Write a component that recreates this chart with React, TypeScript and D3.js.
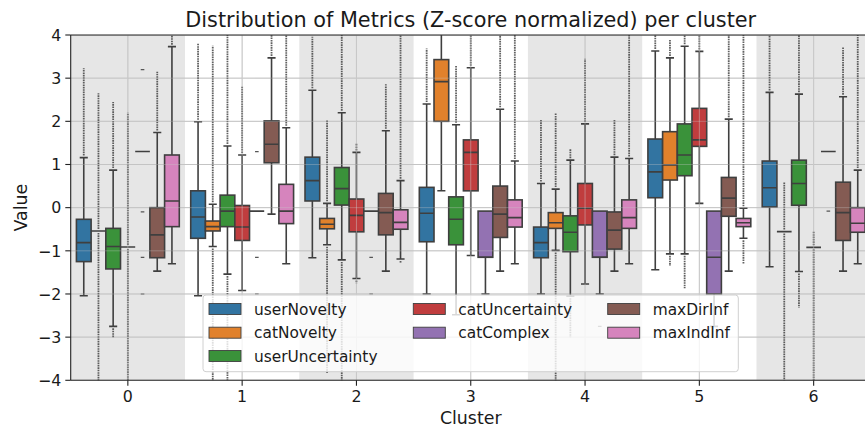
import React from 'react';
import * as d3 from 'd3';

const clusters = ['0', '1', '2', '3', '4', '5', '6'];
const metrics = ['userNovelty', 'catNovelty', 'userUncertainty', 'catUncertainty', 'catComplex', 'maxDirInf', 'maxIndInf'];
const colors = ['#3274a1', '#e1812c', '#3a923a', '#c03d3e', '#9372b2', '#845b53', '#d684bd'];
const yTicks = [-4, -3, -2, -1, 0, 1, 2, 3, 4];

// per cluster: [lower whisker, Q1, median, Q3, upper whisker]
const userNovelty = [
  [-2.04, -1.25, -0.81, -0.27, 1.16], [-2.04, -0.71, -0.215, 0.39, 1.99], [-1.16, 0.155, 0.625, 1.17, 2.72],
  [-2.0, -0.79, -0.13, 0.47, 2.4], [-2.0, -1.16, -0.81, -0.45, 0.56], [-1.44, 0.23, 0.83, 1.59, 3.63], [-1.37, 0.016, 0.46, 1.08, 2.67],
];
const catNovelty = [
  [-0.54, -0.54, -0.54, -0.54, -0.54], [-0.9, -0.54, -0.44, -0.31, 0.08], [-0.86, -0.49, -0.385, -0.25, 0.1],
  [0.39, 2.0, 2.92, 3.43, 4.3], [-0.99, -0.48, -0.35, -0.115, 0.43], [-1.07, 0.64, 0.99, 1.76, 3.47], [-0.555, -0.555, -0.555, -0.555, -0.555],
];
const userUncertainty = [
  [-2.75, -1.42, -0.9, -0.48, 0.87], [-1.54, -0.44, -0.08, 0.29, 1.43], [-1.21, 0.06, 0.44, 0.93, 2.2],
  [-2.48, -0.86, -0.27, 0.25, 1.92], [-2.05, -1.02, -0.57, -0.19, 1.1], [-1.07, 0.74, 1.22, 1.94, 3.74], [-1.48, 0.055, 0.56, 1.1, 2.63],
];
const catUncertainty = [
  [-0.91, -0.91, -0.91, -0.91, -0.91], [-1.92, -0.76, -0.45, 0.05, 1.22], [-1.64, -0.56, -0.18, 0.2, 1.28],
  [-1.11, 0.39, 1.28, 1.57, 3.24], [-1.77, -0.4, -0.015, 0.56, 1.94], [0.1, 1.42, 1.57, 2.3, 3.62], [-0.92, -0.92, -0.92, -0.92, -0.92],
];
const catComplex = [
  [1.3, 1.3, 1.3, 1.3, 1.3], [-0.08, -0.08, -0.08, -0.08, -0.08], [-0.08, -0.08, -0.08, -0.08, -0.08],
  [-2.0, -1.15, -1.15, -0.08, -0.08], [-2.0, -1.15, -1.15, -0.08, -0.08], [-2.75, -2.0, -1.15, -0.08, -0.08], [1.3, 1.3, 1.3, 1.3, 1.3],
];
const maxDirInf = [
  [-1.47, -1.16, -0.63, 0.0, 1.74], [-0.15, 1.04, 1.47, 2.01, 3.47], [-1.47, -0.63, -0.115, 0.33, 1.78],
  [-1.47, -0.69, -0.15, 0.5, 2.28], [-1.47, -0.96, -0.52, -0.1, 1.17], [-1.47, -0.2, 0.22, 0.7, 2.05], [-1.47, -0.76, -0.115, 0.59, 2.57],
];
const maxIndInf = [
  [-1.3, -0.44, 0.155, 1.22, 3.73], [-1.3, -0.37, -0.08, 0.54, 1.85], [-1.19, -0.5, -0.34, -0.05, 0.625],
  [-1.3, -0.45, -0.23, 0.18, 1.08], [-1.3, -0.48, -0.23, 0.18, 1.14], [-0.71, -0.44, -0.35, -0.25, -0.015], [-1.3, -0.57, -0.36, 0.0, 0.87],
];

// outlier extents per cluster (null = none)
const flierHigh = [
  [3.23, 3.8, 3.96, 3.69, 2.03, 4.2, 4.2],
  [2.65, 3.75, 2.03, null, 2.19, 3.9, 0.6],
  [2.45, 4.2, 4.2, 3.28, 1.36, 4.2, 4.2],
  [2.2, 2.8, 1.5, 4.2, 3.45, 4.2, -0.55],
  [null, null, null, null, null, null, null],
  [3.15, 4.2, 2.86, 4.2, 2.03, 4.2, 3.73],
  [4.2, 4.2, 4.2, 4.2, 4.2, 4.2, 4.2],
];
const flierLow = [
  [null, null, null, null, null, null, null],
  [-4.2, -4.2, -3.83, null, -4.2, -1.35, -4.2],
  [-3.0, -4.2, -4.2, null, -3.0, -1.87, -2.32],
  [-4.2, null, -1.75, null, null, null, -4.2],
  [null, null, null, null, null, null, null],
  [null, null, null, null, null, null, null],
  [null, null, -1.28, null, null, -1.31, null],
];
// isolated outliers of catComplex per cluster
const catComplexOutliers = [[3.2, -0.1, -1.15, -2.0], [1.3, -1.15, -2.0], [-1.15, -2.0], [], [-2.75], [], [-0.08]];

const seriesStats = [userNovelty, catNovelty, userUncertainty, catUncertainty, catComplex, maxDirInf, maxIndInf];

const W = 865, H = 430;
const left = 70.7, right = 870.8, top = 35, bottom = 380.3;
const FONT = 'DejaVu Sans, sans-serif';
const LINE = '#3f3f3f';

export default function App() {
  const x = d3.scaleBand<string>().domain(clusters).range([left, right]).padding(0);
  const bw = x.bandwidth();
  const inner = d3.scaleBand<string>().domain(metrics).range([bw * 0.05, bw * 0.95]).padding(0);
  const sw = inner.bandwidth();
  const y = d3.scaleLinear().domain([-4, 4]).range([bottom, top]);
  const capW = sw * 0.55;

  const boxes: React.ReactNode[] = [];
  const fliers: React.ReactNode[] = [];
  metrics.forEach((m, mi) => {
    seriesStats[mi].forEach((s, ci) => {
      const x0 = (x(clusters[ci]) as number) + (inner(m) as number);
      const cx = x0 + sw / 2;
      const [wlo, q1, med, q3, whi] = s;
      const fh = flierHigh[mi][ci];
      const fl = flierLow[mi][ci];
      if (fh !== null) fliers.push(<line key={`fh${mi}-${ci}`} x1={cx} x2={cx} y1={y(whi) - 2} y2={y(fh)} stroke="#3a3a3a" strokeWidth={1.8} strokeDasharray="1.6 0.8" opacity={0.8} />);
      if (fl !== null) fliers.push(<line key={`fl${mi}-${ci}`} x1={cx} x2={cx} y1={y(wlo) + 2} y2={y(fl)} stroke="#3a3a3a" strokeWidth={1.8} strokeDasharray="1.6 0.8" opacity={0.8} />);
      if (mi === 4) {
        catComplexOutliers[ci].forEach((v, k) => {
          fliers.push(<line key={`co${ci}-${k}`} x1={cx - 1.8} x2={cx + 1.8} y1={y(v)} y2={y(v)} stroke="#555" strokeWidth={1.2} />);
        });
      }
      const g = (
        <g key={`b${mi}-${ci}`}>
          {whi > q3 && <line x1={cx} x2={cx} y1={y(q3)} y2={y(whi)} stroke={LINE} strokeWidth={1.6} />}
          {whi > q3 && <line x1={cx - capW / 2} x2={cx + capW / 2} y1={y(whi)} y2={y(whi)} stroke={LINE} strokeWidth={1.6} />}
          {wlo < q1 && <line x1={cx} x2={cx} y1={y(q1)} y2={y(wlo)} stroke={LINE} strokeWidth={1.6} />}
          {wlo < q1 && <line x1={cx - capW / 2} x2={cx + capW / 2} y1={y(wlo)} y2={y(wlo)} stroke={LINE} strokeWidth={1.6} />}
          <rect x={x0} y={y(q3)} width={sw} height={Math.max(0, y(q1) - y(q3))} fill={colors[mi]} stroke={LINE} strokeWidth={1.6} />
          <line x1={x0} x2={x0 + sw} y1={y(med)} y2={y(med)} stroke={LINE} strokeWidth={1.6} />
        </g>
      );
      boxes.push(g);
    });
  });

  const gridV = clusters.map((c) => (x(c) as number) + bw / 2);

  const legendCols = [[0, 1, 2], [3, 4], [5, 6]];
  const colX = [209, 413.3, 607.7];
  const rowY = [309, 332.7, 356];

  return (
    <svg width={W} height={H} style={{ position: 'absolute', left: 0, top: 0, background: '#fff' }} fontFamily={FONT}>
      <defs>
        <clipPath id="plot"><rect x={left} y={top} width={right - left} height={bottom - top} /></clipPath>
      </defs>
      <rect x={0} y={0} width={W} height={H} fill="#fff" />
      <g clipPath="url(#plot)">
        {clusters.filter((_, i) => i % 2 === 0).map((c) => (
          <rect key={`band${c}`} x={x(c)} y={top} width={bw} height={bottom - top} fill="#e6e6e6" />
        ))}
        {yTicks.map((t) => <line key={`gy${t}`} x1={left} x2={right} y1={y(t)} y2={y(t)} stroke="#c2c2c2" strokeWidth={1} />)}
        {gridV.map((gx, i) => <line key={`gx${i}`} x1={gx} x2={gx} y1={top} y2={bottom} stroke="#c2c2c2" strokeWidth={1} />)}
        {fliers}
        {boxes}
        {yTicks.map((t) => <line key={`gy2${t}`} x1={left} x2={right} y1={y(t)} y2={y(t)} stroke="#c8c8c8" strokeWidth={1} opacity={0.35} />)}
        {gridV.map((gx, i) => <line key={`gx2${i}`} x1={gx} x2={gx} y1={top} y2={bottom} stroke="#d0d0d0" strokeWidth={1} opacity={0.45} />)}
      </g>
      {/* spines */}
      <line x1={left} x2={left} y1={top} y2={bottom} stroke="#222" strokeWidth={1.1} />
      <line x1={left} x2={right} y1={top} y2={top} stroke="#222" strokeWidth={1.1} />
      <line x1={left} x2={right} y1={bottom} y2={bottom} stroke="#222" strokeWidth={1.1} />
      {/* y ticks */}
      {yTicks.map((t) => (
        <g key={`yt${t}`}>
          <line x1={left - 5.4} x2={left} y1={y(t)} y2={y(t)} stroke="#222" strokeWidth={1.1} />
          <text x={left - 9.5} y={y(t) + 5.7} textAnchor="end" fontSize={15.8} fill="#1a1a1a">{t < 0 ? `\u2212${Math.abs(t)}` : `${t}`}</text>
        </g>
      ))}
      {/* x ticks */}
      {clusters.map((c, i) => (
        <g key={`xt${c}`}>
          <line x1={gridV[i]} x2={gridV[i]} y1={bottom} y2={bottom + 5.4} stroke="#222" strokeWidth={1.1} />
          <text x={gridV[i]} y={401.8} textAnchor="middle" fontSize={15.8} fill="#1a1a1a">{c}</text>
        </g>
      ))}
      <text x={(left + right) / 2} y={424} textAnchor="middle" fontSize={17.4} fill="#1a1a1a">Cluster</text>
      <text transform={`translate(27, ${(top + bottom) / 2}) rotate(-90)`} textAnchor="middle" fontSize={17.4} fill="#1a1a1a">Value</text>
      <text x={(left + right) / 2} y={27} textAnchor="middle" fontSize={20.8} fill="#1a1a1a">Distribution of Metrics (Z-score normalized) per cluster</text>
      {/* legend */}
      <rect x={203} y={295} width={535.3} height={76.7} rx={3} fill="#fff" fillOpacity={0.8} stroke="#d0d0d0" strokeWidth={1} />
      {legendCols.map((col, ci) => col.map((mi, ri) => (
        <g key={`lg${mi}`}>
          <rect x={colX[ci]} y={rowY[ri] - 5.5} width={32} height={11} fill={colors[mi]} stroke={LINE} strokeWidth={0.9} />
          <text x={colX[ci] + 45} y={rowY[ri] + 5.5} fontSize={15.4} fill="#1a1a1a">{metrics[mi]}</text>
        </g>
      )))}
    </svg>
  );
}
